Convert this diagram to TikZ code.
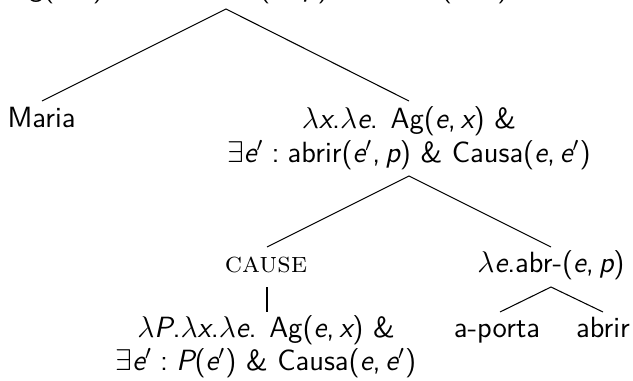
\documentclass[tikz,border=0pt]{standalone}
\usepackage{fontspec}
\newcommand\vv[1]{{\itshape #1}}
\newcommand\pr{\ensuremath{^{\prime}}}
\newcommand\lam{\ensuremath{\lambda}}
\newcommand\ex{\ensuremath{\exists}}
\tikzset{
  lbl/.style={font=\fontsize{11.7}{13.5}\selectfont\sffamily, inner sep=0pt, anchor=base},
  edge/.style={line width=0.42pt}
}
\begin{document}
\begin{tikzpicture}[x=0.4pt,y=-0.4pt]
\clip (0,0) rectangle (633,380);
% root (cut off at the top)
\node[lbl, anchor=base east] (root) at (509,-3) {\lam\vv{e}. Ag(\vv{e},\,\vv{x}) \& \ex\vv{e}\pr\;:\;abrir(\vv{e}\pr,\,\vv{p}) \& Causa(\vv{e},\,\vv{e}\pr)};
\coordinate (a0) at (226,9);
% level 1
\node[lbl] (maria) at (41.5,127) {Maria};
\coordinate (mtop) at (42,101);
\node[lbl] (r1) at (409,128) {\lam\vv{x}.\lam\vv{e}. Ag(\vv{e},\,\vv{x}) \&};
\node[lbl] (r2) at (409,162) {\ex\vv{e}\pr\;:\;abrir(\vv{e}\pr,\,\vv{p}) \& Causa(\vv{e},\,\vv{e}\pr)};
\coordinate (rtop) at (409,101);
\draw[edge] (mtop) -- (a0) -- (rtop);
% level 2
\coordinate (a1) at (409,176);
\node[lbl] (cause) at (266,272) {{\rmfamily\scshape cause}};
\coordinate (ctop) at (267,247);
\node[lbl] (abr) at (551,272) {\lam\vv{e}.abr-(\vv{e},\,\vv{p})};
\coordinate (btop) at (551,247);
\draw[edge] (ctop) -- (a1) -- (btop);
% level 3
\coordinate (cbot) at (267,287);
\node[lbl] (p1) at (266,337) {\lam\vv{P}.\lam\vv{x}.\lam\vv{e}. Ag(\vv{e},\,\vv{x}) \&};
\node[lbl] (p2) at (266,370) {\ex\vv{e}\pr\;:\;\vv{P}(\vv{e}\pr) \& Causa(\vv{e},\,\vv{e}\pr)};
\coordinate (ptop) at (267,312);
\draw[edge] (cbot) -- (ptop);
\coordinate (a2) at (551,287);
\node[lbl] (porta) at (497,337) {a-porta};
\node[lbl] (abrir) at (603,337) {abrir};
\coordinate (ptatop) at (500,312);
\coordinate (abtop) at (603,312);
\draw[edge] (ptatop) -- (a2) -- (abtop);
\end{tikzpicture}
\end{document}
